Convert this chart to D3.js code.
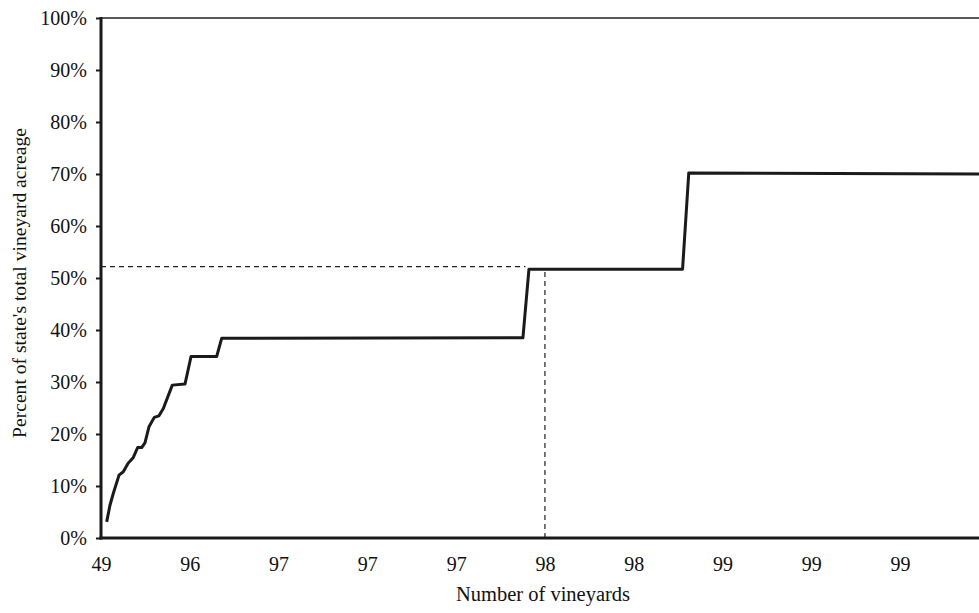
<!DOCTYPE html>
<html>
<head>
<meta charset="utf-8">
<script src="https://cdn.jsdelivr.net/npm/d3@7"></script>
<style>
  body { margin: 0; background: #fff; }
  svg { display: block; font-family: "Liberation Serif", "DejaVu Serif", serif; }
</style>
</head>
<body>
<div id="chart"></div>
<script>
// x positions are tick-slot units (tick i sits at slot i)
const xTickLabels = ["49", "96", "97", "97", "97", "98", "98", "99", "99", "99"];
const yTicks = [0, 0.1, 0.2, 0.3, 0.4, 0.5, 0.6, 0.7, 0.8, 0.9, 1.0];

// cumulative share curve
const curveX = [0.064, 0.101, 0.139, 0.203, 0.251, 0.307, 0.364, 0.413, 0.458, 0.495,
                0.541, 0.600, 0.653, 0.702, 0.803, 0.946, 1.014, 1.303, 1.359,
                4.752, 4.820, 6.550, 6.620, 9.890];
const curveY = [0.031, 0.063, 0.086, 0.121, 0.1275, 0.144, 0.155, 0.174, 0.174, 0.183,
                0.214, 0.232, 0.235, 0.249, 0.294, 0.296, 0.349, 0.349, 0.384,
                0.385, 0.517, 0.517, 0.702, 0.700];

// reference guides (52% of acreage / vineyard count marker)
const guideH = { y: 0.522, x0: 0, x1: 4.78 };
const guideV = { x: 5, y0: 0, y1: 0.512 };

const width = 979, height = 613;
const margin = {left: 101, right: 0, top: 18, bottom: 75};

const svg = d3.select("#chart").append("svg")
    .attr("width", width)
    .attr("height", height);

const x = d3.scaleLinear()
    .domain([0, 9.9])
    .range([margin.left, width - margin.right + 1]);

const y = d3.scaleLinear()
    .domain([0, 1])
    .range([height - margin.bottom, margin.top]);

// top frame line
svg.append("line")
    .attr("x1", x(0)).attr("x2", width)
    .attr("y1", y(1)).attr("y2", y(1))
    .attr("stroke", "#222").attr("stroke-width", 1.5);

// dashed guides
svg.append("line")
    .attr("x1", x(guideH.x0)).attr("x2", x(guideH.x1))
    .attr("y1", y(guideH.y)).attr("y2", y(guideH.y))
    .attr("stroke", "#222").attr("stroke-width", 1.2)
    .attr("stroke-dasharray", "5,4");
svg.append("line")
    .attr("x1", x(guideV.x)).attr("x2", x(guideV.x))
    .attr("y1", y(guideV.y0)).attr("y2", y(guideV.y1))
    .attr("stroke", "#222").attr("stroke-width", 1.2)
    .attr("stroke-dasharray", "5,4");

// curve
const pts = curveX.map((d, i) => [d, curveY[i]]);
const line = d3.line().x(d => x(d[0])).y(d => y(d[1]));
svg.append("path")
    .datum(pts)
    .attr("d", line)
    .attr("fill", "none")
    .attr("stroke", "#1a1a1a")
    .attr("stroke-width", 3)
    .attr("stroke-linejoin", "round");

// y axis
const yAxis = d3.axisLeft(y)
    .tickValues(yTicks)
    .tickFormat(d3.format(".0%"))
    .tickSize(5)
    .tickPadding(9);
const gy = svg.append("g")
    .attr("transform", `translate(${margin.left},0)`)
    .call(yAxis);
gy.select(".domain").attr("stroke", "#1a1a1a").attr("stroke-width", 3)
    .attr("d", `M0,${y(1) - 1}V${y(0) + 1.5}`);
gy.selectAll(".tick line").attr("stroke", "#1a1a1a").attr("stroke-width", 2);
gy.selectAll(".tick text").attr("font-size", 20).attr("fill", "#111")
    .attr("font-family", "Liberation Serif, serif");

// x axis
const xAxis = d3.axisBottom(x)
    .tickValues(d3.range(xTickLabels.length))
    .tickFormat((d, i) => xTickLabels[i])
    .tickSize(0)
    .tickPadding(19);
const gx = svg.append("g")
    .attr("transform", `translate(0,${y(0)})`)
    .call(xAxis);
gx.select(".domain").attr("stroke", "#1a1a1a").attr("stroke-width", 3)
    .attr("d", `M${x(0) - 1.5},0H${width}`);
gx.selectAll(".tick text").attr("font-size", 20).attr("fill", "#111")
    .attr("font-family", "Liberation Serif, serif");

// axis titles
svg.append("text")
    .attr("transform", `translate(26,283) rotate(-90)`)
    .attr("text-anchor", "middle")
    .attr("font-size", 19.6)
    .attr("fill", "#111")
    .text("Percent of state's total vineyard acreage");

svg.append("text")
    .attr("x", 543)
    .attr("y", 601)
    .attr("text-anchor", "middle")
    .attr("font-size", 20.5)
    .attr("fill", "#111")
    .text("Number of vineyards");
</script>
</body>
</html>
